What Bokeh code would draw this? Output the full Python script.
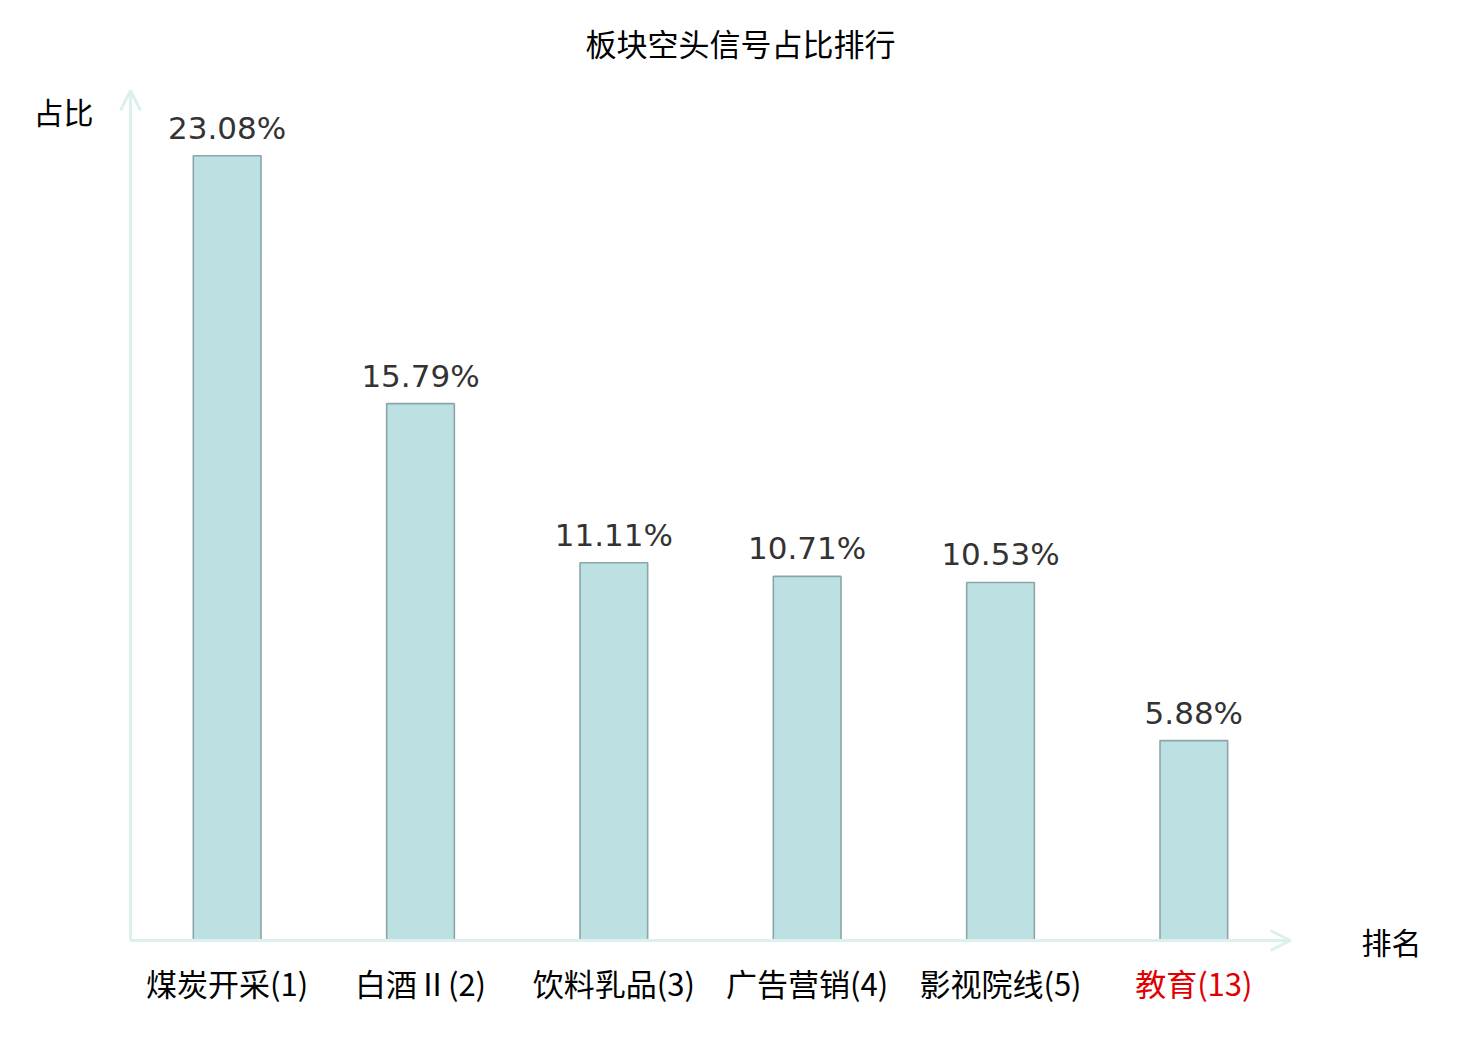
from bokeh.plotting import figure
from bokeh.models import ColumnDataSource, LabelSet, Label, Arrow, OpenHead, Range1d
from bokeh.core.properties import value
from bokeh.embed import file_html
from bokeh.resources import INLINE

categories = ["煤炭开采(1)", "白酒Ⅱ(2)", "饮料乳品(3)", "广告营销(4)", "影视院线(5)", "教育(13)"]
values = [23.08, 15.79, 11.11, 10.71, 10.53, 5.88]
label_colors = ["#000000", "#000000", "#000000", "#000000", "#000000", "#e00000"]
value_texts = ["%.2f%%" % v for v in values]

W, H = 1464, 1024
# frame covers whole canvas; axis origin placed at (130, 940) px, x 0..6 -> 130..1290, y 0..25 -> 940..90
xs_per_px = 6 / 1160.0
ys_per_px = 25 / 850.0
x0, y0 = 130, 940
x_range = Range1d(-x0 * xs_per_px, (W - x0) * xs_per_px)
y_range = Range1d(-(H - y0) * ys_per_px, y0 * ys_per_px)

p = figure(width=W, height=H, output_backend="svg", toolbar_location=None,
           x_range=x_range, y_range=y_range,
           x_axis_location=None, y_axis_location=None,
           min_border=0, min_border_left=0, min_border_right=0,
           min_border_top=0, min_border_bottom=0)
p.grid.visible = False
p.outline_line_color = None
p.background_fill_color = "white"
p.border_fill_color = "white"

xs = [i + 0.5 for i in range(len(categories))]
src = ColumnDataSource(dict(x=xs, top=values, cat=categories, col=label_colors, vt=value_texts,
                            zero=[0] * len(values)))

axis_col = "#dcf1ee"
p.add_layout(Arrow(x_start=0, y_start=0, x_end=6, y_end=0, line_color=axis_col, line_width=3,
                   end=OpenHead(size=20, line_color=axis_col, line_width=3)))
p.add_layout(Arrow(x_start=0, y_start=0, x_end=0, y_end=25, line_color=axis_col, line_width=3,
                   end=OpenHead(size=20, line_color=axis_col, line_width=3)))

p.vbar(x="x", top="top", bottom=0, width=0.35, source=src,
       fill_color="#bde0e3", line_color="#8aa6a8", line_width=1.6)

p.add_layout(LabelSet(x="x", y="top", text="vt", source=src, text_align="center",
                      text_baseline="alphabetic", y_offset=17, text_color="#333333",
                      text_font=value("DejaVu Sans"), text_font_size="31px"))
p.add_layout(LabelSet(x="x", y="zero", text="cat", source=src, text_align="center",
                      text_baseline="alphabetic", y_offset=-55, text_color="col",
                      text_font=value("Noto Sans CJK SC"), text_font_size="31px"))

p.add_layout(Label(x=63, y=H - 110, x_units="screen", y_units="screen", text="占比",
                   text_font="Noto Sans CJK SC", text_font_size="30px", text_align="center",
                   text_baseline="middle", text_color="#000000"))
p.add_layout(Label(x=1391, y=H - 940, x_units="screen", y_units="screen", text="排名",
                   text_font="Noto Sans CJK SC", text_font_size="30px", text_align="center",
                   text_baseline="middle", text_color="#000000"))
p.add_layout(Label(x=740, y=H - 42, x_units="screen", y_units="screen", text="板块空头信号占比排行",
                   text_font="Noto Sans CJK SC", text_font_size="31px", text_align="center",
                   text_baseline="middle", text_color="#000000"))

open("out.html", "w").write(file_html(p, INLINE))
